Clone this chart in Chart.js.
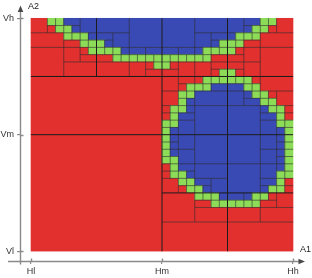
<!DOCTYPE html>
<html>
<head>
<meta charset="utf-8">
<script src="https://cdn.jsdelivr.net/npm/chart.js@4/dist/chart.umd.min.js"></script>
<style>
html,body{margin:0;padding:0;background:#ffffff;}
#wrap{width:312px;height:278px;}
</style>
</head>
<body>
<div id="wrap"><canvas id="c" width="312" height="278"></canvas></div>
<script>
// ---- data ----
const xTickValues = [0, 16, 32];
const xTickLabels = ['Hl', 'Hm', 'Hh'];
const yTickValues = [0, 16, 32];
const yTickLabels = ['Vl', 'Vm', 'Vh'];
const axisTitles = { x: 'A1', y: 'A2' };
// finest-level cell classes, top row first (R = outside, B = inside, G = boundary)
const cellRuns = [
  '2R 2G 24B 2G 2R',
  '3R 2G 22B 2G 3R',
  '4R 3G 18B 3G 4R',
  '6R 3G 14B 3G 6R',
  '7R 4G 10B 4G 7R',
  '10R 12G 10R',
  '15R 2G 15R',
  '23R 2G 7R',
  '21R 6G 5R',
  '19R 3G 4B 2G 4R',
  '18R 2G 7B 2G 3R',
  '18R 1G 9B 2G 2R',
  '17R 2G 10B 2G 1R',
  '17R 1G 12B 1G 1R',
  '16R 2G 12B 2G',
  '16R 1G 14B 1G',
  '16R 1G 14B 1G',
  '16R 1G 14B 1G',
  '16R 1G 14B 1G',
  '16R 2G 13B 1G',
  '17R 1G 13B 1G',
  '17R 2G 11B 2G',
  '18R 2G 10B 1G 1R',
  '19R 2G 8B 2G 1R',
  '20R 3G 4B 2G 3R',
  '22R 6G 4R',
  '32R', '32R', '32R', '32R', '32R', '32R'
];
const classColors = { R: '#e2302e', B: '#3a4ab4', G: '#8ddc58' };

// ---- decode cell map ----
const N = 32;
const grid = cellRuns.map(s => {
  let row = '';
  s.split(' ').forEach(tok => { const n = parseInt(tok, 10); row += tok.slice(-1).repeat(n); });
  if (row.length !== N) throw new Error('bad row ' + s + ' len ' + row.length);
  return row;
});

// ---- bintree (split rows first, then columns) ----
const leaves = [], splits = [];
function uniform(c0, r0, w, h) {
  const k = grid[r0][c0];
  if (w * h === 1) return true;
  if (k === 'G') return false;
  for (let r = r0; r < r0 + h; r++) for (let c = c0; c < c0 + w; c++) if (grid[r][c] !== k) return false;
  return true;
}
function build(c0, r0, w, h, d) {
  if (uniform(c0, r0, w, h)) { leaves.push({ c0, r0, w, h, k: grid[r0][c0] }); return; }
  if (w === h) {
    const hh = h / 2;
    splits.push({ t: 'h', c0, r: r0 + hh, w, d });
    build(c0, r0, w, hh, d + 1); build(c0, r0 + hh, w, hh, d + 1);
  } else {
    const hw = w / 2;
    splits.push({ t: 'v', c: c0 + hw, r0, h, d });
    build(c0, r0, hw, h, d + 1); build(c0 + hw, r0, hw, h, d + 1);
  }
}
build(0, 0, N, N, 0);

const FONT = "'Liberation Sans', Arial, sans-serif";

const cellPlugin = {
  id: 'cells',
  beforeDatasetsDraw(chart) {
    const { ctx, scales: { x, y } } = chart;
    const px = c => x.getPixelForValue(c);
    const py = r => y.getPixelForValue(N - r);
    ctx.save();
    leaves.forEach(l => {
      const x0 = px(l.c0), x1 = px(l.c0 + l.w), y0 = py(l.r0), y1 = py(l.r0 + l.h);
      ctx.fillStyle = classColors[l.k];
      ctx.fillRect(x0 - 0.3, y0 - 0.3, x1 - x0 + 0.6, y1 - y0 + 0.6);
    });
    splits.slice().sort((a, b) => b.d - a.d).forEach(s => {
      ctx.strokeStyle = s.d <= 3 ? '#1c1c1c' : 'rgba(45,45,45,0.6)';
      ctx.lineWidth = 1;
      ctx.beginPath();
      if (s.t === 'h') { ctx.moveTo(px(s.c0), py(s.r)); ctx.lineTo(px(s.c0 + s.w), py(s.r)); }
      else { ctx.moveTo(px(s.c), py(s.r0)); ctx.lineTo(px(s.c), py(s.r0 + s.h)); }
      ctx.stroke();
    });
    ctx.restore();
  },
  afterDraw(chart) {
    const { ctx, chartArea: a, scales: { x, y } } = chart;
    ctx.save();
    ctx.strokeStyle = '#8a8a8a';
    ctx.lineWidth = 1.4;
    const ax = a.left + 0.5, ay = a.bottom + 0.5;
    ctx.beginPath();
    ctx.moveTo(ax, ay + 3); ctx.lineTo(ax, a.top + 3);
    ctx.moveTo(8, ay); ctx.lineTo(a.right - 3, ay);
    // inner halves of tick marks
    x.ticks.forEach(t => { const p = Math.round(x.getPixelForValue(t.value)) + 0.5; ctx.moveTo(p, ay); ctx.lineTo(p, ay - 3); });
    y.ticks.forEach(t => { const p = Math.round(y.getPixelForValue(t.value)) + 0.5; ctx.moveTo(ax, p); ctx.lineTo(ax + 3, p); });
    ctx.stroke();
    ctx.fillStyle = '#4a4a4a';
    ctx.beginPath();
    ctx.moveTo(ax, a.top - 3); ctx.lineTo(ax - 2.8, a.top + 3.5); ctx.lineTo(ax + 2.8, a.top + 3.5); ctx.closePath(); ctx.fill();
    ctx.beginPath();
    ctx.moveTo(a.right + 2, ay); ctx.lineTo(a.right - 4.5, ay - 2.8); ctx.lineTo(a.right - 4.5, ay + 2.8); ctx.closePath(); ctx.fill();
    ctx.fillStyle = '#222';
    ctx.font = '9px ' + FONT;
    ctx.textBaseline = 'alphabetic';
    ctx.textAlign = 'left';
    ctx.fillText(axisTitles.y, 28, 9);
    ctx.fillText(axisTitles.x, 300, 252);
    ctx.restore();
  }
};

new Chart(document.getElementById('c'), {
  type: 'scatter',
  data: { datasets: [{ data: [] }] },
  options: {
    responsive: false,
    animation: false,
    devicePixelRatio: 1,
    layout: { padding: { left: 0, right: 9, top: 5, bottom: 0 } },
    plugins: { legend: { display: false }, tooltip: { enabled: false } },
    scales: {
      x: {
        type: 'linear', min: -1.3435, max: 33.22,
        afterBuildTicks: s => { s.ticks = xTickValues.map(v => ({ value: v })); },
        afterFit: s => { s.height = 17; },
        ticks: { callback: (v, i) => xTickLabels[i], color: '#333', font: { size: 9, family: FONT }, padding: 2, maxRotation: 0, autoSkip: false },
        grid: { drawOnChartArea: false, tickLength: 3, color: '#8a8a8a', lineWidth: 1.2 },
        border: { display: false }
      },
      y: {
        type: 'linear', min: -1.356, max: 33.356,
        afterBuildTicks: s => { s.ticks = yTickValues.map(v => ({ value: v })); },
        afterFit: s => { s.width = 20; },
        ticks: { callback: (v, i) => yTickLabels[i], color: '#333', font: { size: 9, family: FONT }, padding: 3, autoSkip: false },
        grid: { drawOnChartArea: false, tickLength: 3, color: '#8a8a8a', lineWidth: 1.2 },
        border: { display: false }
      }
    }
  },
  plugins: [cellPlugin]
});
</script>
</body>
</html>
